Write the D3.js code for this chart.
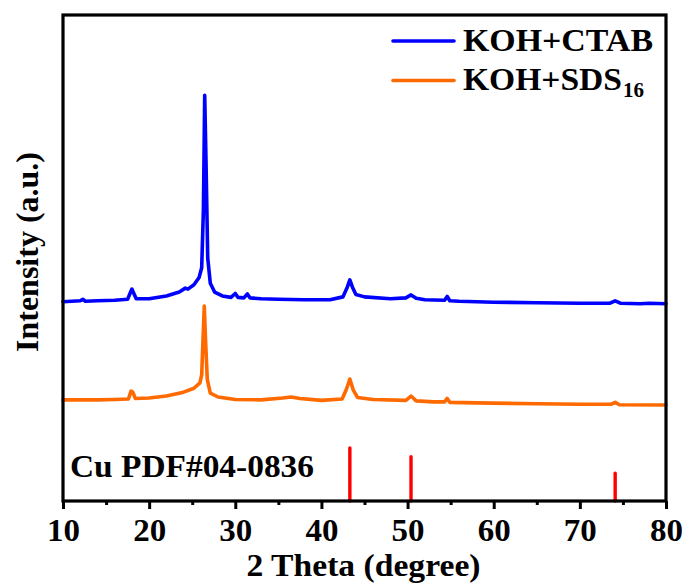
<!DOCTYPE html>
<html>
<head>
<meta charset="utf-8">
<script src="https://cdn.jsdelivr.net/npm/d3@7"></script>
<style>
  html, body { margin: 0; padding: 0; background: #fff; }
  svg text { font-family: "Liberation Serif", "DejaVu Serif", serif; font-weight: bold; fill: #000; }
</style>
</head>
<body>
<div id="chart"></div>
<script>
// ---- Data (2 Theta in degrees, intensity in a.u.) ----
const ctabTheta = [10, 11, 12, 12.3, 12.6, 14, 16, 17.5, 17.8, 18.0, 18.2, 18.5, 20, 22, 23.5, 24.2, 24.5, 25.2, 25.8, 26.1, 26.3, 26.45, 26.6, 26.8, 27.1, 27.6, 28.5, 29.5, 30.0, 30.3, 31.0, 31.4, 31.7, 33, 35, 38, 41, 42.5, 43.0, 43.3, 43.6, 44.0, 45, 48, 49.8, 50.4, 51.0, 52, 54.3, 54.6, 54.9, 56, 60, 65, 70, 73.5, 74.1, 74.7, 77, 78, 80];
const ctabInt   = [410, 411, 412, 415, 411, 412, 413, 415, 428, 436, 428, 416, 416, 422, 430, 438, 436, 445, 460, 480, 600, 835, 700, 500, 448, 430, 422, 419, 427, 419, 418, 426, 418, 416, 415, 414, 414, 420, 440, 455, 440, 425, 420, 416, 418, 424, 417, 414, 413, 421, 412, 411, 409, 408, 407, 407, 412, 407, 406, 407, 406];

const sdsTheta = [10, 12, 14, 16, 17.6, 17.9, 18.1, 18.4, 20, 22, 24, 25.2, 25.9, 26.1, 26.25, 26.4, 26.55, 26.75, 27.1, 28, 30, 33, 35.5, 36.5, 37.5, 40, 42.4, 42.9, 43.3, 43.7, 44.2, 46, 49.8, 50.4, 51, 53, 54.3, 54.6, 54.9, 58, 65, 70, 73.6, 74.1, 74.6, 80];
const sdsInt   = [208, 208, 208, 209, 210, 226, 224, 211, 212, 216, 224, 232, 243, 260, 330, 401, 330, 250, 222, 214, 209, 208, 212, 214, 211, 207, 210, 230, 251, 228, 213, 209, 207, 216, 206, 204, 204, 211, 203, 202, 200, 199, 199, 203, 198, 197.5];

// Cu reference pattern (PDF#04-0836)
const cuTheta = [43.3, 50.4, 74.1];
const cuInt   = [109, 91, 57];

const xTicks = [10, 20, 30, 40, 50, 60, 70, 80];
const xMinorTicks = [15, 25, 35, 45, 55, 65, 75];

const seriesNames = ["KOH+CTAB", "KOH+SDS"];
const seriesColors = ["#0000ff", "#ff6a00"];

const FONT = "'Liberation Serif', 'DejaVu Serif', serif";

// ---- Layout ----
const W = 688, H = 583;
const margin = { top: 15, right: 22, bottom: 82, left: 63 };
const innerW = W - margin.left - margin.right;
const innerH = H - margin.top - margin.bottom;

const svg = d3.select("#chart").append("svg")
  .attr("width", W).attr("height", H);

const g = svg.append("g").attr("transform", `translate(${margin.left},${margin.top})`);

const x = d3.scaleLinear().domain([10, 80]).range([0, innerW]);
const y = d3.scaleLinear().domain([0, 1000]).range([innerH, 0]);

// ---- Spectra ----
const line = d3.line().x(d => x(d[0])).y(d => y(d[1]));
const ctab = ctabTheta.map((t, i) => [t, ctabInt[i]]);
const sds = sdsTheta.map((t, i) => [t, sdsInt[i]]);

g.append("path").attr("d", line(sds))
  .attr("fill", "none").attr("stroke", seriesColors[1])
  .attr("stroke-width", 3.6).attr("stroke-linejoin", "round").attr("stroke-linecap", "round");
g.append("path").attr("d", line(ctab))
  .attr("fill", "none").attr("stroke", seriesColors[0])
  .attr("stroke-width", 3.6).attr("stroke-linejoin", "round").attr("stroke-linecap", "round");

// ---- Cu reference sticks ----
g.append("g").selectAll("line")
  .data(cuTheta.map((t, i) => [t, cuInt[i]]))
  .join("line")
  .attr("x1", d => x(d[0])).attr("x2", d => x(d[0]))
  .attr("y1", y(0)).attr("y2", d => y(d[1]))
  .attr("stroke", "#ff0000").attr("stroke-width", 3.4).attr("stroke-linecap", "round");

// the source typeface is a slightly wide Times Bold; stretch to match
g.append("text")
  .attr("x", 7).attr("y", 462)
  .style("font-family", FONT).style("font-weight", "bold")
  .attr("font-size", 31)
  .attr("textLength", 244).attr("lengthAdjust", "spacingAndGlyphs")
  .text("Cu PDF#04-0836");

// ---- Axes ----
const xAxis = g.append("g").attr("transform", `translate(0,${innerH})`)
  .call(d3.axisBottom(x).tickValues(xTicks).tickSize(8).tickPadding(10).tickFormat(d3.format("d")));
xAxis.select(".domain").remove();
xAxis.selectAll(".tick line").attr("stroke", "#000").attr("stroke-width", 3);
xAxis.selectAll(".tick text")
  .style("font-family", FONT).style("font-weight", "bold")
  .attr("font-size", 31)
  .attr("textLength", 33).attr("lengthAdjust", "spacingAndGlyphs")
  .attr("fill", "#000");

const xMinor = g.append("g").attr("transform", `translate(0,${innerH})`)
  .call(d3.axisBottom(x).tickValues(xMinorTicks).tickSize(4).tickFormat(""));
xMinor.select(".domain").remove();
xMinor.selectAll(".tick line").attr("stroke", "#000").attr("stroke-width", 3);

// frame
g.append("rect")
  .attr("x", 0).attr("y", 0).attr("width", innerW).attr("height", innerH)
  .attr("fill", "none").attr("stroke", "#000").attr("stroke-width", 3.2);

// axis titles
svg.append("text")
  .attr("x", margin.left + innerW / 2 - 1).attr("y", 576)
  .attr("text-anchor", "middle").attr("font-size", 31)
  .attr("textLength", 234).attr("lengthAdjust", "spacingAndGlyphs")
  .style("font-family", FONT).style("font-weight", "bold")
  .text("2 Theta (degree)");

svg.append("text")
  .attr("transform", `translate(38,252) rotate(-90)`)
  .attr("text-anchor", "middle").attr("font-size", 32)
  .style("font-family", FONT).style("font-weight", "bold")
  .text("Intensity (a.u.)");

// ---- Legend ----
const legendLen = [190, 159];
const legend = svg.append("g");
seriesNames.forEach((name, i) => {
  const ly = 41 + i * 39.5;
  legend.append("line")
    .attr("x1", 393).attr("x2", 454).attr("y1", ly).attr("y2", ly)
    .attr("stroke", seriesColors[i]).attr("stroke-width", 3.6).attr("stroke-linecap", "round");
  legend.append("text")
    .attr("x", 463).attr("y", ly + 9.5)
    .attr("font-size", 31)
    .attr("textLength", legendLen[i]).attr("lengthAdjust", "spacingAndGlyphs")
    .style("font-family", FONT).style("font-weight", "bold")
    .text(name);
  if (i === 1) {
    legend.append("text")
      .attr("x", 463 + legendLen[i] + 1).attr("y", ly + 16.5)
      .attr("font-size", 21)
      .style("font-family", FONT).style("font-weight", "bold")
      .text("16");
  }
});
</script>
</body>
</html>
